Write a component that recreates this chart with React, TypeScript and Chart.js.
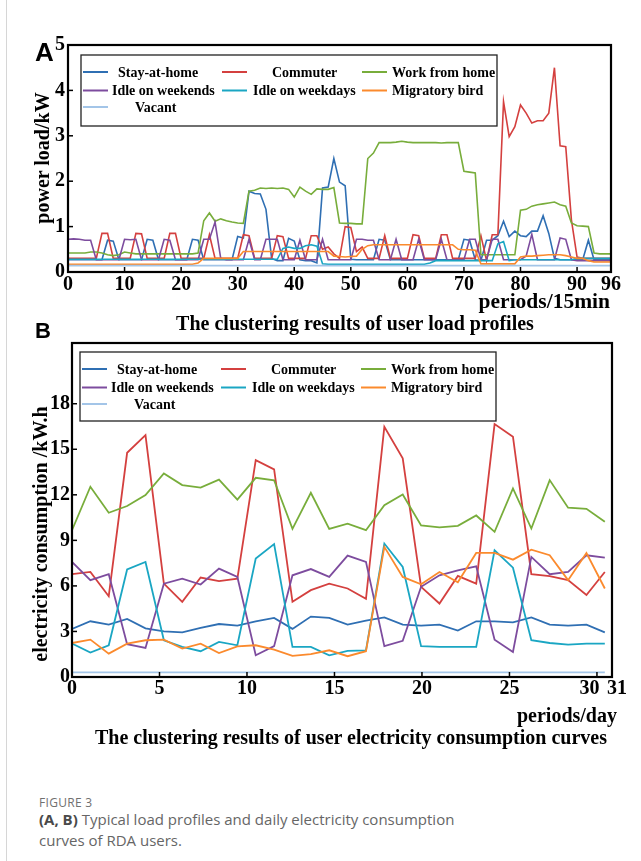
import React, { useEffect, useRef } from 'react';
import { Chart, registerables } from 'chart.js';

Chart.register(...registerables);

const SERIF = '"Liberation Serif", "Times New Roman", serif';
const SANS = '"Liberation Sans", Arial, sans-serif';
const CAPTION = '"Open Sans", "Noto Sans", sans-serif';

const seriesNames = ['Stay-at-home', 'Commuter', 'Work from home', 'Idle on weekends', 'Idle on weekdays', 'Migratory bird', 'Vacant'];
const seriesColors = ['#2f6fb3', '#d4403f', '#78ad3b', '#7d4c9e', '#1aa6c3', '#fb8a2d', '#a3c5e8'];

// ---------- Panel A: 15-min load profiles ----------
const periodsA = [0, 1, 2, 3, 4, 5, 6, 7, 8, 9, 10, 11, 12, 13, 14, 15, 16, 17, 18, 19, 20, 21, 22, 23, 24, 25, 26, 27, 28, 29, 30, 31, 32, 33, 34, 35, 36, 37, 38, 39, 40, 41, 42, 43, 44, 45, 46, 47, 48, 49, 50, 51, 52, 53, 54, 55, 56, 57, 58, 59, 60, 61, 62, 63, 64, 65, 66, 67, 68, 69, 70, 71, 72, 73, 74, 75, 76, 77, 78, 79, 80, 81, 82, 83, 84, 85, 86, 87, 88, 89, 90, 91, 92, 93, 94, 95, 96];
const xTicksA = [0, 10, 20, 30, 40, 50, 60, 70, 80, 90, 96];
const yTicksA = [0, 1, 2, 3, 4, 5];

const stayA = [0.27, 0.27, 0.27, 0.27, 0.27, 0.27, 0.27, 0.70, 0.68, 0.27,
  0.27, 0.27, 0.27, 0.27, 0.72, 0.70, 0.27, 0.27, 0.27, 0.27,
  0.27, 0.27, 0.72, 0.70, 0.27, 0.27, 0.27, 0.27, 0.27, 0.27,
  0.78, 0.75, 1.78, 1.73, 1.72, 1.38, 0.30, 0.25, 0.25, 0.74,
  0.68, 0.27, 0.25, 0.25, 0.20, 1.85, 1.87, 2.50, 1.98, 1.90,
  0.28, 0.27, 0.27, 0.27, 0.27, 0.72, 0.70, 0.27, 0.27, 0.27,
  0.27, 0.27, 0.27, 0.27, 0.27, 0.27, 0.27, 0.27, 0.27, 0.27,
  0.72, 0.70, 0.27, 0.25, 0.70, 0.70, 0.80, 1.12, 0.78, 0.90,
  0.80, 0.78, 0.90, 0.90, 1.24, 0.85, 0.30, 0.27, 0.27, 0.27,
  0.27, 0.27, 0.70, 0.27, 0.27, 0.27, 0.27];
const commuterA = [0.30, 0.30, 0.30, 0.30, 0.30, 0.30, 0.85, 0.85, 0.30, 0.30,
  0.30, 0.30, 0.85, 0.84, 0.30, 0.30, 0.30, 0.30, 0.85, 0.85,
  0.30, 0.30, 0.30, 0.30, 0.30, 0.82, 0.30, 0.30, 0.30, 0.30,
  0.30, 0.82, 0.80, 0.30, 0.30, 0.30, 0.30, 0.80, 0.78, 0.30,
  0.30, 0.30, 0.30, 0.80, 0.80, 0.50, 0.55, 0.40, 0.30, 1.00,
  0.98, 0.45, 0.55, 0.30, 0.30, 0.30, 0.80, 0.30, 0.30, 0.30,
  0.30, 0.82, 0.80, 0.30, 0.30, 0.30, 0.82, 0.82, 0.30, 0.30,
  0.30, 0.30, 0.30, 0.80, 0.25, 0.82, 0.82, 3.75, 2.98, 3.20,
  3.68, 3.50, 3.28, 3.33, 3.33, 3.50, 4.50, 2.78, 2.76, 1.15,
  0.33, 0.30, 0.30, 0.30, 0.30, 0.30, 0.30];
const workA = [0.42, 0.42, 0.42, 0.42, 0.44, 0.44, 0.42, 0.38, 0.36, 0.38,
  0.44, 0.42, 0.40, 0.40, 0.40, 0.40, 0.40, 0.40, 0.40, 0.40,
  0.40, 0.40, 0.40, 0.42, 1.13, 1.30, 1.12, 1.17, 1.13, 1.10,
  1.08, 1.07, 1.78, 1.80, 1.85, 1.84, 1.85, 1.84, 1.85, 1.82,
  1.65, 1.87, 1.78, 1.71, 1.83, 1.82, 1.82, 1.86, 1.08, 1.07,
  1.07, 1.06, 1.06, 2.50, 2.62, 2.85, 2.85, 2.85, 2.86, 2.88,
  2.86, 2.85, 2.85, 2.85, 2.85, 2.85, 2.84, 2.85, 2.85, 2.85,
  2.22, 2.20, 2.18, 0.38, 0.38, 0.38, 0.38, 0.38, 0.38, 0.38,
  1.36, 1.38, 1.45, 1.48, 1.50, 1.52, 1.54, 1.48, 1.45, 1.08,
  1.02, 1.01, 1.00, 0.42, 0.40, 0.40, 0.40];
const idleWeekendsA = [0.72, 0.73, 0.72, 0.70, 0.70, 0.27, 0.27, 0.27, 0.27, 0.27,
  0.72, 0.71, 0.72, 0.27, 0.27, 0.27, 0.27, 0.72, 0.70, 0.27,
  0.27, 0.27, 0.27, 0.27, 0.72, 0.72, 1.10, 0.30, 0.27, 0.27,
  0.27, 0.27, 0.72, 0.27, 0.27, 0.72, 0.72, 0.72, 0.27, 0.27,
  0.27, 0.70, 0.27, 0.27, 0.27, 0.72, 0.27, 0.27, 0.27, 0.27,
  0.27, 0.72, 0.72, 0.70, 0.70, 0.27, 0.27, 0.27, 0.72, 0.27,
  0.27, 0.27, 0.72, 0.27, 0.27, 0.27, 0.72, 0.27, 0.27, 0.27,
  0.27, 0.72, 0.72, 0.27, 0.27, 0.72, 0.72, 0.27, 0.27, 0.27,
  0.27, 0.35, 0.83, 0.27, 0.27, 0.27, 0.27, 0.75, 0.72, 0.27,
  0.25, 0.25, 0.25, 0.25, 0.25, 0.25, 0.25];
const idleWeekdaysA = [0.28, 0.28, 0.28, 0.28, 0.28, 0.28, 0.28, 0.28, 0.28, 0.28,
  0.28, 0.28, 0.28, 0.28, 0.28, 0.28, 0.28, 0.28, 0.28, 0.28,
  0.28, 0.28, 0.28, 0.28, 0.28, 0.28, 0.28, 0.28, 0.28, 0.28,
  0.28, 0.28, 0.28, 0.28, 0.28, 0.28, 0.28, 0.28, 0.52, 0.55,
  0.52, 0.52, 0.58, 0.60, 0.57, 0.18, 0.17, 0.17, 0.17, 0.17,
  0.17, 0.17, 0.17, 0.17, 0.17, 0.17, 0.17, 0.17, 0.17, 0.17,
  0.17, 0.17, 0.17, 0.17, 0.20, 0.25, 0.25, 0.25, 0.25, 0.25,
  0.25, 0.25, 0.25, 0.25, 0.25, 0.25, 0.62, 0.67, 0.25, 0.27,
  0.27, 0.27, 0.27, 0.27, 0.27, 0.27, 0.27, 0.27, 0.27, 0.27,
  0.30, 0.30, 0.30, 0.30, 0.30, 0.30, 0.30];
const migratoryA = [0.17, 0.17, 0.17, 0.17, 0.17, 0.17, 0.17, 0.17, 0.17, 0.17,
  0.17, 0.17, 0.17, 0.17, 0.17, 0.17, 0.17, 0.17, 0.17, 0.17,
  0.17, 0.17, 0.17, 0.20, 0.30, 0.30, 0.30, 0.30, 0.30, 0.30,
  0.30, 0.45, 0.45, 0.45, 0.45, 0.45, 0.45, 0.45, 0.45, 0.45,
  0.45, 0.45, 0.45, 0.45, 0.45, 0.45, 0.45, 0.35, 0.34, 0.33,
  0.34, 0.35, 0.50, 0.58, 0.60, 0.60, 0.60, 0.60, 0.60, 0.60,
  0.60, 0.60, 0.60, 0.60, 0.60, 0.60, 0.60, 0.60, 0.60, 0.50,
  0.49, 0.49, 0.48, 0.18, 0.18, 0.18, 0.18, 0.18, 0.18, 0.18,
  0.33, 0.35, 0.35, 0.36, 0.37, 0.38, 0.38, 0.38, 0.36, 0.33,
  0.30, 0.30, 0.25, 0.22, 0.22, 0.22, 0.22];
const vacantA = [0.14, 0.14, 0.14, 0.14, 0.14, 0.14, 0.14, 0.14, 0.14, 0.14,
  0.14, 0.14, 0.14, 0.14, 0.14, 0.14, 0.14, 0.14, 0.14, 0.14,
  0.14, 0.14, 0.14, 0.14, 0.14, 0.14, 0.14, 0.14, 0.14, 0.14,
  0.14, 0.14, 0.14, 0.14, 0.14, 0.14, 0.14, 0.14, 0.14, 0.14,
  0.14, 0.14, 0.14, 0.14, 0.14, 0.14, 0.14, 0.14, 0.14, 0.14,
  0.14, 0.14, 0.14, 0.14, 0.14, 0.14, 0.14, 0.14, 0.14, 0.14,
  0.14, 0.14, 0.14, 0.14, 0.14, 0.14, 0.14, 0.14, 0.14, 0.14,
  0.14, 0.14, 0.14, 0.14, 0.14, 0.14, 0.14, 0.14, 0.14, 0.14,
  0.14, 0.14, 0.14, 0.14, 0.14, 0.14, 0.14, 0.14, 0.14, 0.14,
  0.14, 0.14, 0.14, 0.14, 0.14, 0.14, 0.14];

// ---------- Panel B: daily consumption ----------
const daysB = [0, 1.05, 2.1, 3.15, 4.2, 5.25, 6.3, 7.35, 8.4, 9.45, 10.5, 11.55, 12.6, 13.65, 14.7, 15.75, 16.8, 17.85, 18.9, 19.95, 21, 22.05, 23.1, 24.15, 25.2, 26.25, 27.3, 28.35, 29.4, 30.45];
const xTicksB = [0, 5, 10, 15, 20, 25, 30, 30.86];
const xTickLabelsB = ['0', '5', '10', '15', '20', '25', '30   ', '  31'];
const yTicksB = [0, 3, 6, 9, 12, 15, 18];

const stayB = [3.17, 3.67, 3.45, 3.82, 3.2, 3.01, 2.94, 3.23, 3.49, 3.38, 3.67, 3.89, 3.17, 3.98, 3.89, 3.45, 3.71, 3.93, 3.45, 3.38, 3.45, 3.06, 3.67, 3.67, 3.6, 3.93, 3.45, 3.38, 3.45, 2.94];
const commuterB = [6.77, 6.92, 5.32, 14.77, 15.93, 6.15, 4.95, 6.55, 6.31, 6.48, 14.28, 13.67, 4.95, 5.72, 6.15, 5.83, 5.15, 16.48, 14.4, 5.94, 4.84, 6.66, 6.15, 16.66, 15.83, 6.77, 6.64, 6.38, 5.4, 6.92];
const workB = [9.67, 12.53, 10.82, 11.26, 11.98, 13.41, 12.64, 12.48, 13.0, 11.69, 13.12, 12.96, 9.76, 12.13, 9.76, 10.1, 9.67, 11.32, 12.02, 9.98, 9.85, 9.96, 10.64, 9.56, 12.42, 9.78, 12.97, 11.15, 11.08, 10.22];
const idleWeekendsB = [7.58, 6.38, 6.77, 2.16, 1.91, 6.15, 6.48, 6.09, 7.14, 6.59, 1.43, 2.03, 6.7, 7.11, 6.59, 8.0, 7.58, 2.03, 2.38, 5.94, 6.7, 7.03, 7.29, 2.46, 1.65, 7.91, 6.77, 6.92, 8.02, 7.87];
const idleWeekdaysB = [2.2, 1.61, 2.09, 7.08, 7.58, 2.42, 1.98, 1.7, 2.31, 2.09, 7.8, 8.75, 1.98, 1.98, 1.43, 1.72, 1.76, 8.79, 7.25, 2.03, 1.98, 1.98, 1.98, 8.35, 7.2, 2.42, 2.24, 2.13, 2.2, 2.2];
const migratoryB = [2.24, 2.46, 1.54, 2.2, 2.42, 2.46, 1.87, 2.2, 1.58, 2.02, 2.09, 1.8, 1.39, 1.5, 1.76, 1.37, 1.7, 8.57, 6.59, 6.11, 6.92, 6.24, 8.17, 8.17, 7.73, 8.39, 8.02, 6.38, 8.17, 5.83];
const vacantB = [0.3, 0.3, 0.3, 0.3, 0.3, 0.3, 0.3, 0.3, 0.3, 0.3, 0.3, 0.3, 0.3, 0.3, 0.3, 0.3, 0.3, 0.3, 0.3, 0.3, 0.3, 0.3, 0.3, 0.3, 0.3, 0.3, 0.3, 0.3, 0.3, 0.3];

// ---------- legend layout (offsets inside legend box) ----------
const legendRows = [17, 35.5, 52];
const legendCols = [[2, 27], [141, 166], [281, 306]];
const legendSlots = [
  { col: 0, row: 0, tx: 37 },
  { col: 1, row: 0, tx: 191 },
  { col: 2, row: 0, tx: 311 },
  { col: 0, row: 1, tx: 31 },
  { col: 1, row: 1, tx: 172 },
  { col: 2, row: 1, tx: 311 },
  { col: 0, row: 2, tx: 54 },
];

const framePlugin = {
  id: 'frame',
  afterDatasetsDraw(chart: any, _args: any, opts: any) {
    const { ctx, chartArea } = chart;
    const { left, top, right, bottom } = chartArea;
    const xs = chart.scales.x;
    const ys = chart.scales.y;
    ctx.save();
    ctx.strokeStyle = '#000';
    ctx.lineWidth = 1.5;
    xs.ticks.forEach((t: any) => {
      const p = xs.getPixelForValue(t.value);
      ctx.beginPath();
      ctx.moveTo(p, bottom);
      ctx.lineTo(p, bottom - 5);
      ctx.stroke();
    });
    ys.ticks.forEach((t: any) => {
      const p = ys.getPixelForValue(t.value);
      ctx.beginPath();
      ctx.moveTo(left, p);
      ctx.lineTo(left + 5, p);
      ctx.stroke();
    });
    ctx.lineWidth = 2.2;
    ctx.strokeRect(left, top, right - left, bottom - top);

    const L = opts.box;
    ctx.fillStyle = '#fff';
    ctx.fillRect(L.x, L.y, L.w, L.h);
    ctx.lineWidth = 1.3;
    ctx.strokeStyle = '#222';
    ctx.strokeRect(L.x, L.y, L.w, L.h);
    ctx.font = `bold 14px ${SERIF}`;
    ctx.textBaseline = 'middle';
    ctx.textAlign = 'left';
    legendSlots.forEach((s, i) => {
      const y = L.y + legendRows[s.row];
      const [a, b] = legendCols[s.col];
      ctx.strokeStyle = seriesColors[i];
      ctx.lineWidth = 2;
      ctx.beginPath();
      ctx.moveTo(L.x + a, y);
      ctx.lineTo(L.x + b, y);
      ctx.stroke();
      ctx.fillStyle = '#000';
      ctx.fillText(seriesNames[i], L.x + s.tx, y + 1);
    });
    ctx.restore();
  },
};

const tickFont = { family: SERIF, size: 20, weight: 'bold' as const };

function makeDatasets(xs: number[], series: number[][], width: number) {
  return series.map((vals, i) => ({
    label: seriesNames[i],
    data: xs.map((x, j) => ({ x, y: vals[j] })),
    borderColor: seriesColors[i],
    backgroundColor: seriesColors[i],
    borderWidth: width,
    pointRadius: 0,
    tension: 0,
    fill: false,
    order: series.length - i,
  }));
}

function makeConfig(p: {
  xs: number[]; series: number[][]; width: number; xMax: number; yMax: number;
  xTicks: number[]; xLabels: string[]; yTicks: number[];
  padTop: number; padRight: number; yWidth: number; xHeight: number;
  xPad: number; yPad: number; box: { x: number; y: number; w: number; h: number };
}): any {
  return {
    type: 'line',
    data: { datasets: makeDatasets(p.xs, p.series, p.width) },
    options: {
      responsive: false,
      animation: false,
      devicePixelRatio: 1,
      layout: { padding: { left: 0, top: p.padTop, right: p.padRight, bottom: 0 } },
      plugins: {
        legend: { display: false },
        tooltip: { enabled: false },
        title: { display: false },
        frame: { box: p.box },
      },
      scales: {
        x: {
          type: 'linear',
          min: 0,
          max: p.xMax,
          afterBuildTicks: (s: any) => { s.ticks = p.xTicks.map((v) => ({ value: v })); },
          afterFit: (s: any) => { s.height = p.xHeight; },
          grid: { display: false, drawTicks: false },
          border: { display: false },
          ticks: {
            font: tickFont, color: '#000', padding: p.xPad, autoSkip: false, maxRotation: 0, minRotation: 0,
            callback: (_v: any, idx: number) => p.xLabels[idx],
          },
        },
        y: {
          type: 'linear',
          min: 0,
          max: p.yMax,
          afterBuildTicks: (s: any) => { s.ticks = p.yTicks.map((v) => ({ value: v })); },
          afterFit: (s: any) => { s.width = p.yWidth; },
          grid: { display: false, drawTicks: false },
          border: { display: false },
          ticks: { font: tickFont, color: '#000', padding: p.yPad, callback: (v: any) => String(v) },
        },
      },
    },
    plugins: [framePlugin],
  };
}

const serifBold = (size: number) => ({ fontFamily: SERIF, fontWeight: 700, fontSize: size, lineHeight: `${size}px`, whiteSpace: 'nowrap' as const, color: '#000', position: 'absolute' as const });

export default function App() {
  const refA = useRef<HTMLCanvasElement>(null);
  const refB = useRef<HTMLCanvasElement>(null);

  useEffect(() => {
    const chartA = new Chart(refA.current as HTMLCanvasElement, makeConfig({
      xs: periodsA,
      series: [stayA, commuterA, workA, idleWeekendsA, idleWeekdaysA, migratoryA, vacantA],
      width: 1.6, xMax: 96, yMax: 5,
      xTicks: xTicksA, xLabels: xTicksA.map(String), yTicks: yTicksA,
      padTop: 45, padRight: 30, yWidth: 68, xHeight: 63, xPad: 1, yPad: 3,
      box: { x: 81, y: 55, w: 416, h: 71 },
    }));
    const chartB = new Chart(refB.current as HTMLCanvasElement, makeConfig({
      xs: daysB,
      series: [stayB, commuterB, workB, idleWeekendsB, idleWeekdaysB, migratoryB, vacantB],
      width: 1.8, xMax: 30.86, yMax: 22,
      xTicks: xTicksB, xLabels: xTickLabelsB, yTicks: yTicksB,
      padTop: 18, padRight: 29, yWidth: 72, xHeight: 83, xPad: 0, yPad: 2,
      box: { x: 80, y: 27, w: 416, h: 69 },
    }));
    return () => { chartA.destroy(); chartB.destroy(); };
  }, []);

  return (
    <div style={{ position: 'absolute', left: 0, top: 0, width: 641, height: 861, background: '#fff', overflow: 'hidden' }}>
      <div style={{ position: 'absolute', left: 6, top: 0, width: 1, height: 861, background: '#d6d6d6' }} />
      <canvas ref={refA} width={641} height={335} style={{ position: 'absolute', left: 0, top: 0, width: 641, height: 335 }} />
      <canvas ref={refB} width={641} height={435} style={{ position: 'absolute', left: 0, top: 325, width: 641, height: 435 }} />

      <div style={{ position: 'absolute', left: 35, top: 38.6, fontFamily: SANS, fontWeight: 700, fontSize: 26, lineHeight: '26px', color: '#000' }}>A</div>
      <div style={{ position: 'absolute', left: 35, top: 320.4, fontFamily: SANS, fontWeight: 700, fontSize: 22, lineHeight: '22px', color: '#000' }}>B</div>

      <div style={{ ...serifBold(20), left: 41.5, top: 157.5, transform: 'translate(-50%, -50%) rotate(-90deg)' }}>power load/kW</div>
      <div style={{ ...serifBold(21.5), right: 31, top: 291 }}>periods/15min</div>
      <div style={{ ...serifBold(20), left: 355, top: 312.6, transform: 'translateX(-50%)' }}>The clustering results of user load profiles</div>

      <div style={{ ...serifBold(20), left: 39.5, top: 534, transform: 'translate(-50%, -50%) rotate(-90deg)' }}>electricity consumption /kW.h</div>
      <div style={{ ...serifBold(20), right: 24, top: 705 }}>periods/day</div>
      <div style={{ ...serifBold(20), left: 351, top: 727.3, transform: 'translateX(-50%)' }}>The clustering results of user electricity consumption curves</div>

      <div style={{ position: 'absolute', left: 39, top: 796, fontFamily: CAPTION, fontSize: 12, lineHeight: '14px', color: '#707070', letterSpacing: 0.3 }}>FIGURE 3</div>
      <div style={{ position: 'absolute', left: 39, top: 808.5, fontFamily: CAPTION, fontSize: 15, lineHeight: '21px', color: '#666666', whiteSpace: 'nowrap' }}>
        <span style={{ fontWeight: 700, color: '#4a4a4a' }}>(A, B)</span> Typical load profiles and daily electricity consumption<br />curves of RDA users.
      </div>
    </div>
  );
}
